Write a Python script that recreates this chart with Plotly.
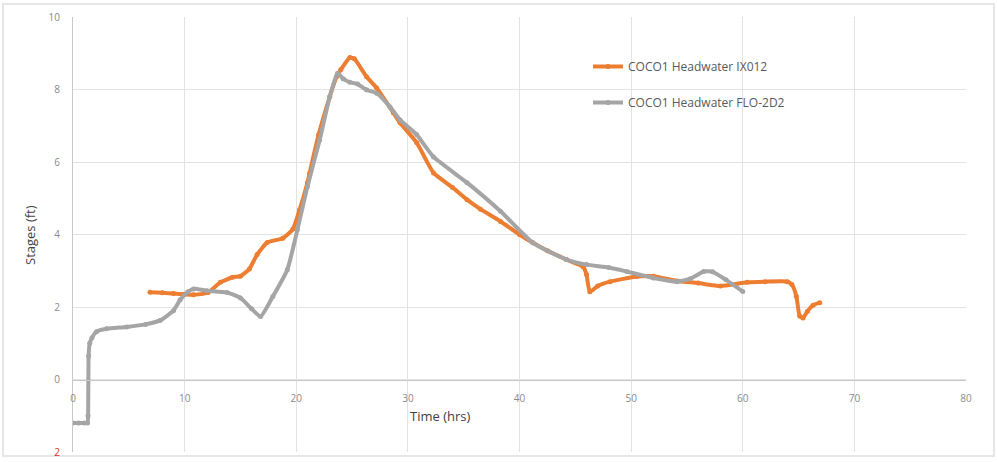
import plotly.graph_objects as go

# ---- data ----
ix012_time = [6.9, 8, 9, 10, 10.8, 12.1, 13.2, 14.3, 15, 15.8, 16.5, 17.4, 18.8, 19.7, 20.3,
              21, 21.2, 22, 23, 23.6, 24, 24.8, 25.2, 26.3, 27.2, 28.7, 29.3, 30.8, 32.3, 34,
              35.3, 36.5, 38.3, 40, 41.2, 42.5, 44.2, 45.7, 46.0, 46.3, 47, 48.1, 50.5, 52,
              54.1, 56, 58, 60.4, 62, 64, 64.4, 64.8, 65.1, 65.4, 65.8, 66.3, 66.9]
ix012_stage = [2.41, 2.39, 2.37, 2.35, 2.34, 2.40, 2.68, 2.82, 2.85, 3.05, 3.45, 3.78, 3.9, 4.15, 4.68,
               5.43, 5.7, 6.75, 7.8, 8.35, 8.55, 8.88, 8.85, 8.35, 8.04, 7.36, 7.08, 6.53, 5.70, 5.3,
               4.96, 4.7, 4.36, 4.0, 3.77, 3.55, 3.31, 3.11, 2.9, 2.42, 2.58, 2.70, 2.84, 2.85,
               2.72, 2.66, 2.58, 2.68, 2.70, 2.70, 2.62, 2.3, 1.75, 1.70, 1.88, 2.05, 2.12]

flo2d2_time = [0, 0.5, 1.0, 1.3, 1.35, 1.4, 1.5, 1.7, 2.1, 3, 4.8, 6.5, 7.8, 9, 9.6, 10.3, 10.8,
               12, 13.8, 15, 16, 16.8, 17.9, 19.2, 20.1, 21, 22.1, 23, 23.7, 24.2, 24.8, 25.5,
               26.3, 27.2, 28.4, 29.3, 30.8, 32.3, 35.3, 38.3, 41.2, 44.2, 46, 48, 49.6, 52,
               54.1, 55.3, 56.5, 57.3, 58.5, 60]
flo2d2_stage = [-1.2, -1.2, -1.2, -1.2, -1.0, 0.65, 1.0, 1.15, 1.32, 1.4, 1.45, 1.52, 1.63, 1.9, 2.2, 2.42, 2.5,
                2.45, 2.40, 2.25, 1.95, 1.74, 2.29, 3.03, 4.13, 5.32, 6.61, 7.8, 8.45, 8.3, 8.2, 8.15,
                7.99, 7.9, 7.52, 7.16, 6.75, 6.14, 5.43, 4.64, 3.77, 3.31, 3.17, 3.09, 2.98, 2.80,
                2.70, 2.78, 2.98, 2.97, 2.75, 2.43]

x_ticks = [0, 10, 20, 30, 40, 50, 60, 70, 80]
y_ticks = [-2, 0, 2, 4, 6, 8, 10]
y_ticktext = ["<span style='color:#e0301e'>2</span>", "0", "2", "4", "6", "8", "10"]

names = ["COCO1 Headwater IX012", "COCO1 Headwater FLO-2D2"]
colors = ["#ED7D31", "#A5A5A5"]

fig = go.Figure()
fig.add_trace(go.Scatter(x=ix012_time, y=ix012_stage, name=names[0], legendgroup="a",
                         mode="lines+markers", line=dict(color=colors[0], width=4, shape="spline", smoothing=0.5),
                         marker=dict(size=5, color=colors[0])))
fig.add_trace(go.Scatter(x=flo2d2_time, y=flo2d2_stage, name=names[1], legendgroup="b",
                         mode="lines+markers", line=dict(color=colors[1], width=4, shape="spline", smoothing=0.5),
                         marker=dict(size=5, color=colors[1])))

tick_font = dict(family="Open Sans, Liberation Sans, sans-serif", size=10, color="#8a8a8a")
title_font = dict(family="Open Sans, Liberation Sans, sans-serif", size=13, color="#404040")

W, H = 997, 462
L, R, T, B = 73, 31, 17, 10
pw, ph = W - L - R, H - T - B


def px_x(p):
    return (p - L) / pw


def px_y(p):
    return (H - B - p) / ph


fig.update_layout(
    width=W, height=H,
    margin=dict(l=L, r=R, t=T, b=B, autoexpand=False),
    paper_bgcolor="white", plot_bgcolor="white",
    showlegend=True,
    legend=dict(x=px_x(588), y=px_y(52), xanchor="left", yanchor="top",
                font=dict(family="Open Sans, Liberation Sans, sans-serif", size=12, color="#595959"),
                tracegroupgap=17, itemwidth=30, bgcolor="rgba(0,0,0,0)"),
    xaxis=dict(range=[0, 80], tickvals=x_ticks, showgrid=True, gridcolor="#e3e3e3", gridwidth=1,
               zeroline=False, showline=True, linecolor="#c8c8c8", linewidth=1.2,
               anchor="free", position=1/6, ticks="", tickfont=tick_font,
               ticklabelstandoff=9),
    yaxis=dict(range=[-2, 10], tickvals=y_ticks, ticktext=y_ticktext, showgrid=True,
               gridcolor="#e3e3e3", gridwidth=1, zeroline=False, showline=True,
               linecolor="#c8c8c8", linewidth=1.2, ticks="", tickfont=tick_font,
               ticklabelstandoff=10),
    annotations=[
        dict(text="Time (hrs)", xref="paper", yref="paper", x=px_x(440), y=px_y(416),
             showarrow=False, font=title_font, xanchor="center", yanchor="middle"),
        dict(text="Stages (ft)", xref="paper", yref="paper", x=px_x(30), y=px_y(235),
             showarrow=False, font=title_font, textangle=-90, xanchor="center", yanchor="middle"),
    ],
    shapes=[
        dict(type="rect", xref="paper", yref="paper", x0=px_x(3), x1=px_x(994),
             y0=px_y(456), y1=px_y(4), line=dict(color="#e6e6e6", width=2), layer="below"),
    ],
)

fig.write_html("out.html", config={"displayModeBar": False},
               post_script="document.body.style.margin='0';document.body.style.overflow='hidden';")
